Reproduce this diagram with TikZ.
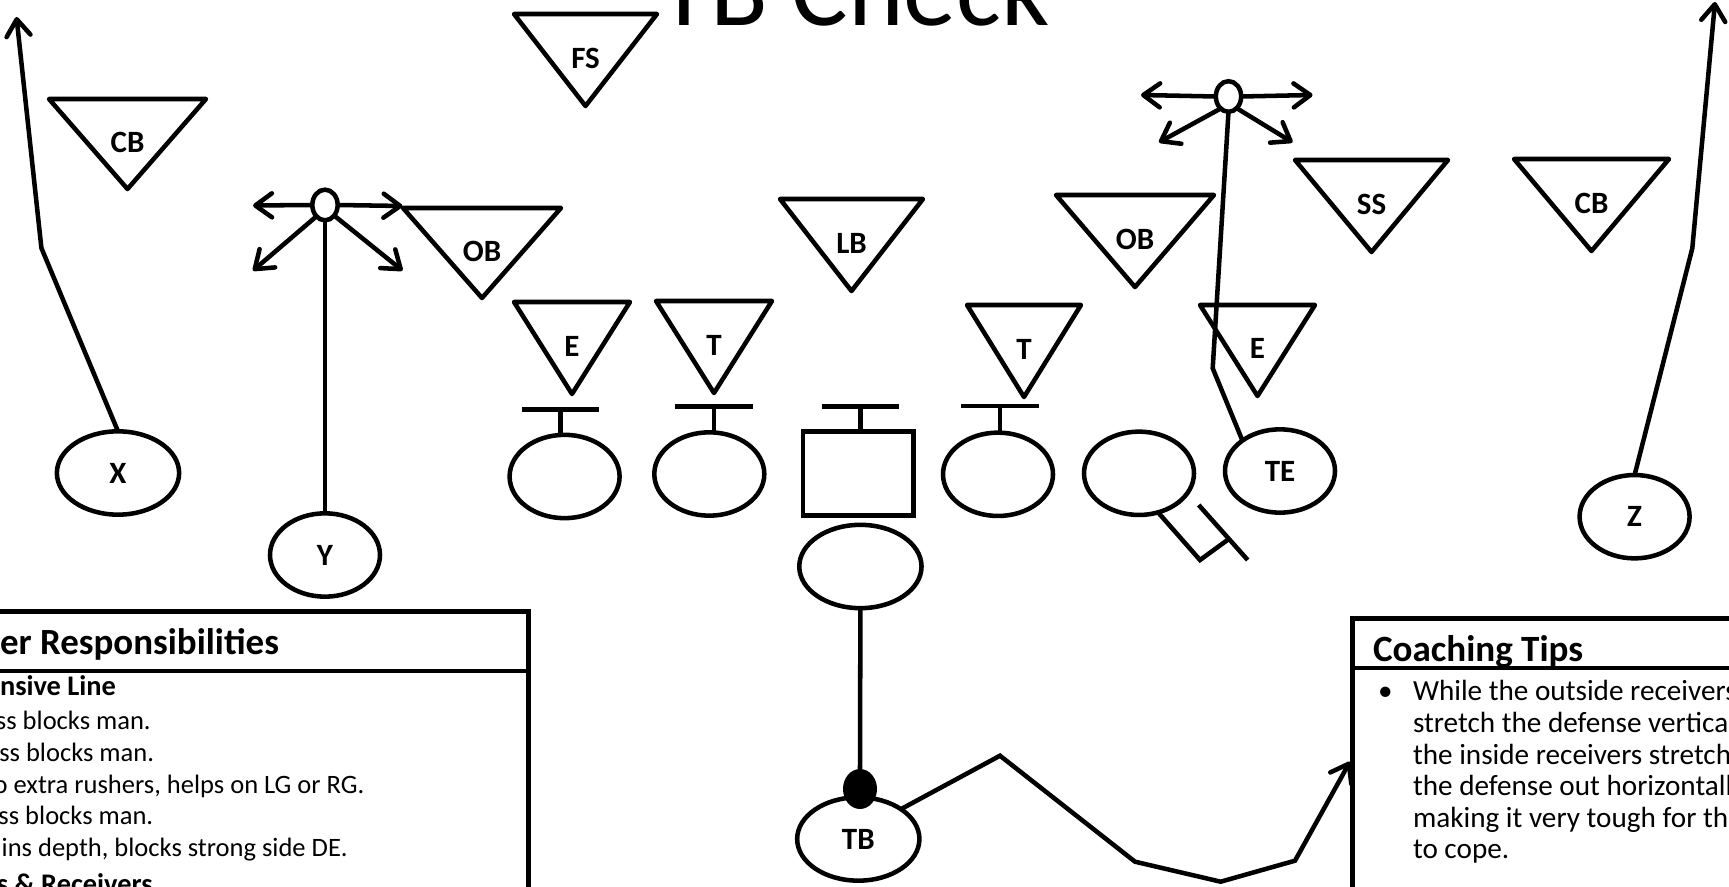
\documentclass[tikz,border=0pt]{standalone}
\usepackage{fontspec}
\setmainfont{Carlito}
\usetikzlibrary{arrows.meta,shapes.geometric}
\newcommand\defnd[6]{%
  \draw[tri] (#2,#4) -- (#3,#4) -- ({(#2+#3)/2},#5) -- cycle;
  \node[lbl] (#1) at ({(#2+#3)/2},{#4+0.48*(#5-#4)}) {#6};}
\begin{document}
\begin{tikzpicture}[x=0.75pt,y=-0.75pt,
  every node/.style={inner sep=0pt, outer sep=0pt},
  ln/.style={line width=3.4pt},
  tri/.style={ln, line join=round},
  lbl/.style={font=\fontsize{23.25pt}{27pt}\selectfont\bfseries},
  pl/.style={ln, draw, ellipse, minimum width=82.5pt, minimum height=62.5pt,
             font=\fontsize{23.25pt}{27pt}\selectfont\bfseries},
  wide/.style={minimum width=91.7pt},
  hub/.style={ln, draw, ellipse, minimum width=19pt, minimum height=23pt},
  tip/.style={-{Straight Barb[length=12.5pt,width=18pt,round]}},
  hdl/.style={anchor=base west, font=\fontsize{27.7pt}{32pt}\selectfont\bfseries},
  subl/.style={anchor=base west, font=\fontsize{21.3pt}{25pt}\selectfont\bfseries},
  bodyl/.style={anchor=base west, font=\fontsize{19.9pt}{24pt}\selectfont},
  hdr/.style={anchor=base west, font=\fontsize{27.8pt}{32pt}\selectfont\bfseries},
  bodyr/.style={anchor=base west, font=\fontsize{21.9pt}{26pt}\selectfont}
]
\useasboundingbox (0,0) rectangle (1729,887);
\fill[white] (0,0) rectangle (1729,887);
\clip (0,0) rectangle (1729,887);

% title
\node[anchor=base, font=\fontsize{79.5pt}{90pt}\selectfont] (title) at (854,26) {TB Check};

% defense
\defnd{fs}{514}{657}{14}{106}{FS}
\defnd{cbl}{49}{206}{99}{189}{CB}
\defnd{obl}{403}{561}{208}{298}{OB}
\defnd{el}{514}{630}{302}{394}{E}
\defnd{tl}{656}{772}{301}{393}{T}
\defnd{lb}{780}{923}{199}{291}{LB}
\defnd{tr}{967}{1081}{305}{397}{T}
\defnd{obr}{1056}{1214}{195}{287}{OB}
\defnd{er}{1200}{1315}{305}{396}{E}
\defnd{ss}{1295}{1448}{160}{252}{SS}
\defnd{cbr}{1514}{1669}{159}{251}{CB}

% offense
\node[pl,wide] (X) at (118,473) {X};
\node[pl] (Y) at (325,555) {Y};
\node[pl] (ol1) at (564.6,476.5) {};
\node[pl] (ol2) at (709.3,474) {};
\node[ln,draw,rectangle,minimum width=82.7pt,minimum height=62.9pt] (C) at (858.1,473.5) {};
\node[pl] (ol3) at (998,474.3) {};
\node[pl] (ol4) at (1139,473.3) {};
\node[pl] (TE) at (1280,471) {TE};
\node[pl] (Z) at (1634.6,516.7) {Z};
\node[pl,wide] (QB) at (860.4,566.5) {};
\node[pl,wide] (TB) at (858.3,839) {TB};
\node[hub] (yh) at (325,205) {};
\node[hub] (th) at (1228.5,96.5) {};
\node[fill, ellipse, minimum width=25.5pt, minimum height=30pt] (dot) at (860,789) {};

% blocks
\coordinate (b1) at (560.5,409.3);
\coordinate (b2) at (713.8,406.7);
\coordinate (b3) at (860.4,406.7);
\coordinate (b4) at (1000,406);
\draw[ln] (b1) ++(-38.7,0) -- ++(77.4,0);
\draw[ln] (b2) ++(-38.7,0) -- ++(77.4,0);
\draw[ln] (b3) ++(-38.7,0) -- ++(77.4,0);
\draw[ln] (b4) ++(-38.7,0) -- ++(77.4,0);
\draw[ln] (b1) -- (b1 |- ol1.north);
\draw[ln] (b2) -- (b2 |- ol2.north);
\draw[ln] (b3) -- (b3 |- C.north);
\draw[ln] (b4) -- (b4 |- ol3.north);
\coordinate (k4) at (1200,560);
\coordinate (m4) at (1229.8,538.3);
\coordinate (p4a) at (1198.7,505);
\coordinate (p4b) at (1247.7,560);
\draw[ln] (ol4.-64) -- (k4) -- (m4);
\draw[ln] (p4a) -- (p4b);

% routes
\coordinate (xb) at (41.4,248);
\coordinate (xt) at (16.5,17);
\draw[ln,tip] (X.north) -- (xb) -- (xt);
\coordinate (zb) at (1692.3,248.3);
\coordinate (zt) at (1715,2);
\draw[ln,tip] (Z.north) -- (zb) -- (zt);
\draw[ln] (yh.south) -- (Y.north);
\coordinate (yl) at (253,205.5);
\coordinate (yr) at (402.5,206);
\coordinate (ydl) at (253,270.6);
\coordinate (ydr) at (402.5,270.6);
\draw[ln,tip] (yh.west) -- (yl);
\draw[ln,tip] (yh.east) -- (yr);
\draw[ln,tip] (yh.-127) -- (ydl);
\draw[ln,tip] (yh.-49) -- (ydr);
\coordinate (tl) at (1141,95);
\coordinate (tr) at (1312.6,95);
\coordinate (tdl) at (1159,142.3);
\coordinate (tdr) at (1292.5,142.3);
\draw[ln,tip] (th.west) -- (tl);
\draw[ln,tip] (th.east) -- (tr);
\draw[ln,tip] (th.-123) -- (tdl);
\draw[ln,tip] (th.-55) -- (tdr);
\coordinate (teb) at (1212.7,368.3);
\draw[ln] (th.south) -- (teb) -- (TE.141);
\draw[ln] (QB.south) -- (dot.north);
\coordinate (r1) at (1000,755.7);
\coordinate (r2) at (1135,861.7);
\coordinate (r3) at (1220.7,881.7);
\coordinate (r4) at (1295,860.7);
\coordinate (r5) at (1350,761.7);
\draw[ln,tip] (TB.35) -- (r1) -- (r2) -- (r3) -- (r4) -- (r5);

% left box
\coordinate (lb1) at (-10,611.7);
\coordinate (lb2) at (528.6,611.7);
\coordinate (lb3) at (528.6,900);
\coordinate (lh1) at (-10,671);
\coordinate (lh2) at (528.6,671);
\draw[ln] (lb1) -- (lb2) -- (lb3);
\draw[line width=3pt] (lh1) -- (lh2);
\node[hdl] (lhd) at (0,655) {er Responsibilities};
\node[subl] (l1) at (0,695.5) {nsive Line};
\node[bodyl] (l2) at (-4,729.5) {ss blocks man.};
\node[bodyl] (l3) at (-0.7,761) {ss blocks man.};
\node[bodyl] (l4) at (-6.3,793) {o extra rushers, helps on LG or RG.};
\node[bodyl] (l5) at (-1.5,824.5) {ss blocks man.};
\node[bodyl] (l6) at (1.7,856.7) {ins depth, blocks strong side DE.};
\node[subl] (l7) at (-3,893) {s \& Receivers};

% right box
\coordinate (rb1) at (1352.5,900);
\coordinate (rb2) at (1352.5,618.5);
\coordinate (rb3) at (1740,618.5);
\coordinate (rh1) at (1352.5,668);
\coordinate (rh2) at (1740,668);
\draw[ln] (rb1) -- (rb2) -- (rb3);
\draw[line width=3pt] (rh1) -- (rh2);
\node[hdr] (rhd) at (1373,661.7) {Coaching Tips};
\node[bodyr] (bul) at (1378,700.5) {\textbullet};
\node[bodyr] (t1) at (1413,700.5) {While the outside receivers};
\node[bodyr] (t2) at (1413,732.3) {stretch the defense vertica};
\node[bodyr] (t3) at (1413,764) {the inside receivers stretch};
\node[bodyr] (t4) at (1413,795.7) {the defense out horizontall};
\node[bodyr] (t5) at (1413,827.4) {making it very tough for the};
\node[bodyr] (t6) at (1413,858.6) {to cope.};
\end{tikzpicture}
\end{document}
